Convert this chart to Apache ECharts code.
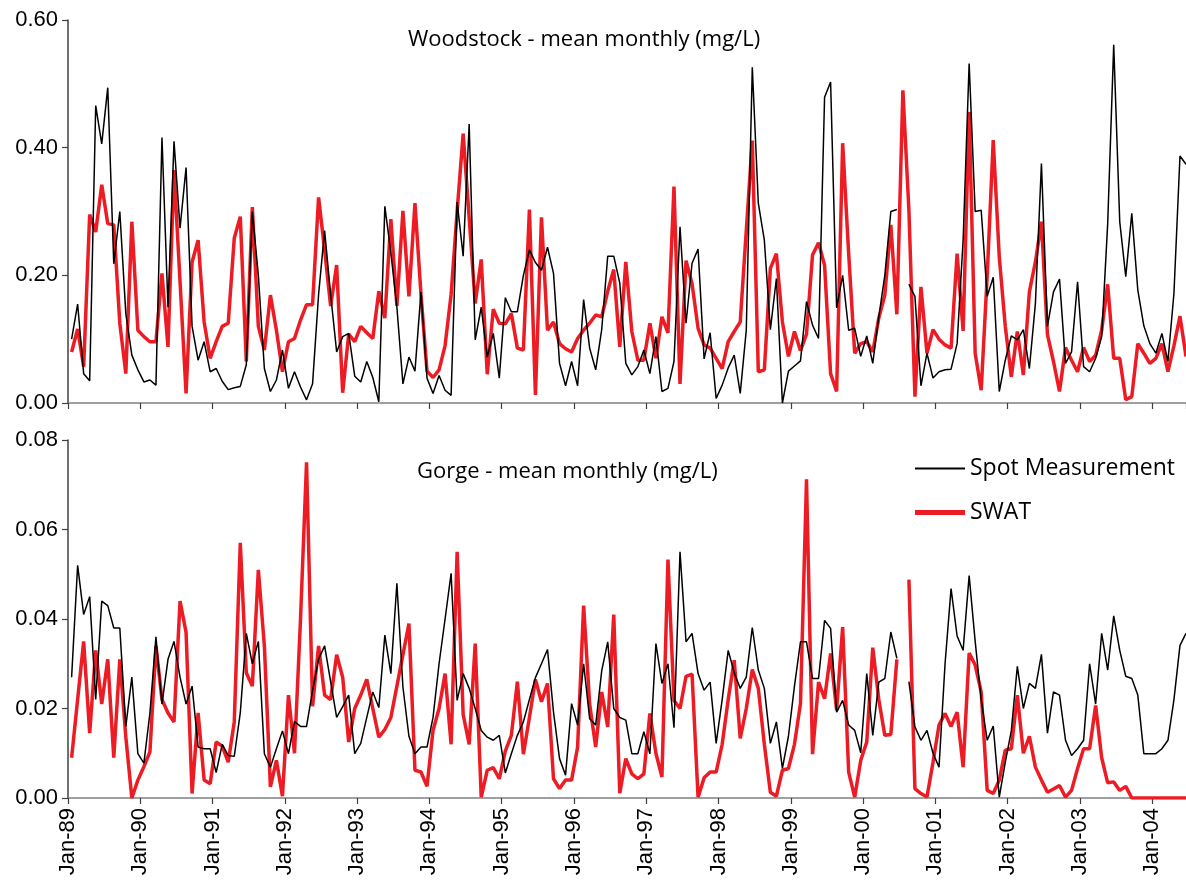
<!DOCTYPE html>
<html>
<head>
<meta charset="utf-8">
<script src="https://cdn.jsdelivr.net/npm/echarts@6/dist/echarts.min.js"></script>
<style>
html,body{margin:0;padding:0;background:#fff;}
#chart{width:1186px;height:881px;}
</style>
</head>
<body>
<div id="chart"></div>
<script>
// ---- data (monthly, Jan-1989 .. Jun-2004) ----
const tickLabels = ['Jan-89','Jan-90','Jan-91','Jan-92','Jan-93','Jan-94','Jan-95','Jan-96','Jan-97','Jan-98','Jan-99','Jan-00','Jan-01','Jan-02','Jan-03','Jan-04'];

const woodstockSpot = [
0.10,0.155,0.046,0.035,0.466,0.406,0.494,0.218,0.300,0.14,0.075,0.052,
0.033,0.036,0.028,0.416,0.15,0.41,0.274,0.369,0.12,0.067,0.096,0.049,
0.054,0.034,0.021,0.024,0.026,0.06,0.30,0.2,0.054,0.018,0.036,0.083,
0.023,0.049,0.025,0.005,0.03,0.17,0.27,0.17,0.08,0.104,0.109,0.042,
0.033,0.065,0.04,0.002,0.308,0.235,0.15,0.03,0.072,0.05,0.174,0.039,
0.015,0.043,0.02,0.012,0.315,0.23,0.437,0.099,0.15,0.072,0.109,0.039,
0.165,0.143,0.143,0.20,0.24,0.22,0.208,0.244,0.203,0.062,0.027,0.065,
0.027,0.162,0.086,0.052,0.115,0.23,0.23,0.188,0.062,0.044,0.057,0.083,
0.046,0.104,0.018,0.023,0.065,0.276,0.125,0.219,0.241,0.069,0.11,0.007,
0.028,0.055,0.075,0.015,0.114,0.526,0.313,0.255,0.115,0.195,0.0,0.05,
0.058,0.066,0.159,0.122,0.101,0.479,0.503,0.149,0.2,0.114,0.117,0.073,
0.105,0.062,0.135,0.2,0.3,0.303,null,0.186,0.167,0.027,0.078,0.039,
0.049,0.052,0.053,0.093,0.255,0.532,0.30,0.302,0.167,0.197,0.018,0.067,
0.105,0.099,0.115,0.054,0.156,0.375,0.12,0.174,0.194,0.062,0.08,0.19,
0.057,0.049,0.07,0.104,0.281,0.561,0.284,0.198,0.297,0.177,0.121,0.093,
0.078,0.109,0.065,0.172,0.387,0.374
];

const woodstockSwat = [
0.080,0.116,0.057,0.295,0.268,0.342,0.281,0.279,0.125,0.046,0.284,0.114,
0.104,0.096,0.096,0.203,0.088,0.365,0.19,0.015,0.221,0.255,0.127,0.07,
0.096,0.12,0.125,0.258,0.292,0.065,0.307,0.12,0.083,0.169,0.114,0.049,
0.096,0.101,0.13,0.154,0.154,0.322,0.24,0.152,0.216,0.016,0.108,0.096,
0.12,0.11,0.101,0.175,0.133,0.288,0.152,0.301,0.167,0.313,0.17,0.05,
0.04,0.052,0.09,0.17,0.3,0.422,0.29,0.156,0.225,0.045,0.147,0.125,
0.124,0.14,0.086,0.083,0.303,0.0125,0.291,0.114,0.127,0.093,0.085,0.08,
0.101,0.114,0.125,0.138,0.135,0.175,0.209,0.088,0.221,0.112,0.067,0.067,
0.125,0.07,0.135,0.11,0.339,0.03,0.223,0.187,0.117,0.091,0.086,0.07,
0.054,0.096,0.112,0.127,0.27,0.411,0.049,0.052,0.211,0.234,0.127,0.073,
0.112,0.082,0.108,0.232,0.251,0.216,0.046,0.018,0.407,0.234,0.078,0.093,
0.096,0.08,0.133,0.169,0.279,0.139,0.49,0.302,0.01,0.182,0.078,0.115,
0.1,0.091,0.086,0.234,0.113,0.456,0.078,0.02,0.2,0.412,0.229,0.12,
0.041,0.112,0.044,0.174,0.221,0.284,0.107,0.065,0.018,0.087,0.067,0.049,
0.087,0.065,0.075,0.114,0.186,0.07,0.07,0.005,0.01,0.093,0.078,0.062,
0.07,0.093,0.049,0.09,0.136,0.073
];

const gorgeSpot = [
0.027,0.052,0.041,0.045,0.022,0.044,0.043,0.038,0.038,0.016,0.027,0.0099,
0.0078,0.019,0.036,0.021,0.031,0.035,0.027,0.021,0.025,0.0114,0.011,0.011,
0.0057,0.012,0.0095,0.0093,0.019,0.0368,0.030,0.035,0.0099,0.0069,0.011,0.015,
0.0099,0.0171,0.016,0.016,0.024,0.031,0.034,0.026,0.018,0.0204,0.023,0.0099,
0.0122,0.018,0.0237,0.0202,0.0364,0.0278,0.048,0.0248,0.0138,0.0099,0.0114,0.0114,
0.018,0.03,0.04,0.0502,0.0218,0.0278,0.0245,0.02,0.0151,0.0136,0.0129,0.014,
0.0056,0.0099,0.014,0.017,0.022,0.0269,0.03,0.0332,0.0192,0.0088,0.0051,0.0211,
0.0163,0.030,0.0177,0.0163,0.0284,0.0349,0.02,0.018,0.0174,0.0099,0.0099,0.0148,
0.0099,0.0345,0.0256,0.03,0.0157,0.055,0.0349,0.0368,0.0278,0.0241,0.0259,0.0122,
0.022,0.033,0.028,0.0245,0.027,0.0381,0.0286,0.0245,0.0122,0.017,0.0066,0.0138,
0.025,0.0349,0.0349,0.0267,0.0267,0.0397,0.0379,0.0192,0.0218,0.0163,0.0151,0.0101,
0.0278,0.014,0.0259,0.0267,0.0371,0.0312,null,0.026,0.0159,0.0129,0.0151,0.01,
0.0069,0.030,0.0468,0.0362,0.033,0.0497,0.035,0.022,0.0129,0.0161,0.0002,0.008,
0.015,0.0294,0.02,0.0256,0.0245,0.0321,0.0145,0.0237,0.023,0.0129,0.0095,0.011,
0.0129,0.030,0.021,0.0368,0.0286,0.0407,0.033,0.0272,0.0267,0.023,0.0099,0.0099,
0.0099,0.011,0.0129,0.022,0.0341,0.0368
];

const gorgeSwat = [
0.009,0.022,0.035,0.0145,0.033,0.021,0.031,0.009,0.031,0.0136,0.0,0.004,
0.007,0.0103,0.034,0.022,0.019,0.017,0.044,0.037,0.001,0.019,0.004,0.0032,
0.0125,0.0116,0.008,0.017,0.057,0.028,0.025,0.051,0.034,0.0025,0.0084,0.0004,
0.023,0.01,0.04,0.075,0.0205,0.034,0.023,0.022,0.032,0.027,0.0125,0.020,
0.023,0.0265,0.020,0.0136,0.0153,0.018,0.025,0.032,0.039,0.0062,0.0058,0.0026,
0.0151,0.02,0.0278,0.012,0.055,0.0187,0.012,0.0345,0.0002,0.0062,0.0068,0.0043,
0.0105,0.014,0.026,0.0098,0.018,0.0265,0.0215,0.0256,0.0043,0.0021,0.004,0.004,
0.0114,0.043,0.021,0.0114,0.0237,0.0159,0.041,0.0011,0.0088,0.0054,0.0043,0.0054,
0.0189,0.01,0.0047,0.0533,0.0218,0.02,0.0272,0.0277,0.0002,0.0045,0.0058,0.0058,
0.012,0.022,0.0308,0.0133,0.02,0.0287,0.0245,0.012,0.0013,0.0004,0.0062,0.0066,
0.012,0.0211,0.0712,0.0098,0.0259,0.0222,0.0323,0.0196,0.0382,0.0058,0.0002,0.0084,
0.0125,0.0336,0.022,0.014,0.0142,0.031,null,0.0488,0.0021,0.001,0.0002,0.008,
0.0163,0.0189,0.016,0.0192,0.0069,0.0324,0.0297,0.0237,0.0017,0.001,0.004,0.0107,
0.011,0.023,0.01,0.0138,0.0069,0.004,0.0013,0.002,0.0028,0.0002,0.0017,0.0066,
0.011,0.011,0.0207,0.009,0.0034,0.0036,0.0017,0.0026,0,0,0,0,
0,0,0,0,0,0
];

const seriesNames = ['Spot Measurement', 'SWAT'];
const panelTitles = ['Woodstock - mean monthly (mg/L)', 'Gorge - mean monthly (mg/L)'];

// ---- build ----
const pointOffset = 0.6; // position of each monthly value inside its month
const toPairs = arr => arr.map((v, i) => [i + pointOffset, v]);
const xMax = woodstockSpot.length - 1 + pointOffset;

const comic = "'Open Sans', 'Noto Sans', 'DejaVu Sans', sans-serif";
const arial = "'Liberation Sans', Arial, sans-serif";

function xAxisCfg(gridIndex, showLabels) {
  return {
    type: 'value', gridIndex, min: 0, max: xMax, interval: 12,
    axisLine: { show: true, lineStyle: { color: '#808080', width: 1.5 } },
    axisTick: { show: true, length: 6, lineStyle: { color: '#404040', width: 1.2 } },
    splitLine: { show: false },
    axisLabel: {
      show: showLabels, rotate: 90, margin: 10, fontSize: 22, fontFamily: arial, color: '#000',
      showMaxLabel: false,
      formatter: v => (Math.abs(v % 12) < 1e-6 ? (tickLabels[Math.round(v / 12)] || '') : '')
    }
  };
}
function yAxisCfg(gridIndex, max, interval) {
  return {
    type: 'value', gridIndex, min: 0, max, interval,
    axisLine: { show: true, lineStyle: { color: '#404040', width: 1.5 } },
    axisTick: { show: true, length: 6, lineStyle: { color: '#404040', width: 1.2 } },
    splitLine: { show: false },
    axisLabel: { margin: 10, fontSize: 22, fontFamily: arial, color: '#000', formatter: v => v.toFixed(2) }
  };
}
function lineSeries(name, data, xi, color, width, z) {
  return {
    name, type: 'line', xAxisIndex: xi, yAxisIndex: xi, data: toPairs(data),
    showSymbol: false, symbol: 'none', connectNulls: false, z,
    color, lineStyle: { color, width }, animation: false
  };
}

const chart = echarts.init(document.getElementById('chart'), null, { renderer: 'canvas' });
chart.setOption({
  backgroundColor: '#ffffff',
  animation: false,
  title: [
    { text: panelTitles[0], left: 403, top: 24, textStyle: { fontFamily: comic, fontSize: 22, fontWeight: 'normal', color: '#000' } },
    { text: panelTitles[1], left: 412, top: 456, textStyle: { fontFamily: comic, fontSize: 22, fontWeight: 'normal', color: '#000' } }
  ],
  legend: [
    { data: [seriesNames[0]], left: 910, top: 452, icon: 'rect', itemWidth: 50, itemHeight: 2,
      textStyle: { fontFamily: comic, fontSize: 23, color: '#000' }, selectedMode: false },
    { data: [seriesNames[1]], left: 910, top: 496, icon: 'rect', itemWidth: 50, itemHeight: 5,
      textStyle: { fontFamily: comic, fontSize: 23, color: '#000' }, selectedMode: false }
  ],
  grid: [
    { left: 68, right: 0, top: 20, height: 383 },
    { left: 68, right: 0, top: 440, height: 358 }
  ],
  xAxis: [xAxisCfg(0, false), xAxisCfg(1, true)],
  yAxis: [yAxisCfg(0, 0.6, 0.2), yAxisCfg(1, 0.08, 0.02)],
  series: [
    lineSeries(seriesNames[0], woodstockSpot, 0, '#000000', 1.5, 3),
    lineSeries(seriesNames[1], woodstockSwat, 0, '#ED1C24', 3.5, 2),
    lineSeries(seriesNames[0], gorgeSpot, 1, '#000000', 1.5, 3),
    lineSeries(seriesNames[1], gorgeSwat, 1, '#ED1C24', 3.5, 2)
  ]
});
</script>
</body>
</html>
